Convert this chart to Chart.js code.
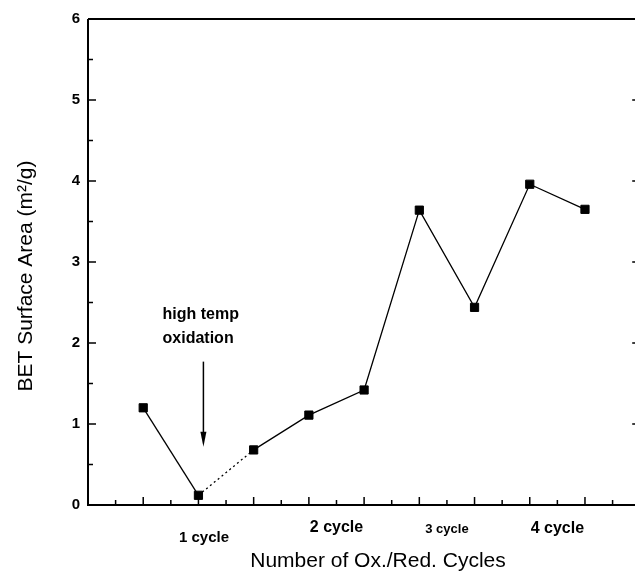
<!DOCTYPE html>
<html>
<head>
<meta charset="utf-8">
<script src="https://cdn.jsdelivr.net/npm/chart.js@4.4.1/dist/chart.umd.min.js"></script>
<style>
  html, body { margin: 0; padding: 0; overflow: hidden; background: #fff; }
  #wrap { width: 647px; height: 575px; position: relative; }
</style>
</head>
<body>
<div id="wrap"><canvas id="myChart"></canvas></div>
<script>
// sample positions along the x axis and measured BET areas
const sampleIndex = [1, 2, 3, 4, 5, 6, 7, 8, 9];
const betArea = [1.2, 0.12, 0.68, 1.11, 1.42, 3.64, 2.44, 3.96, 3.65];

// group labels under the axis (x in axis units)
const cycleLabels = ['1 cycle', '2 cycle', '3 cycle', '4 cycle'];
const cycleLabelX = [2.1, 4.5, 6.5, 8.5];

const annotationLines = ['high temp', 'oxidation'];
const xTitle = 'Number of Ox./Red. Cycles';
const yTitle = 'BET Surface Area (m²/g)';

const FONT = '"Liberation Sans", Arial, sans-serif';
const cycleFonts = ['bold 15px', 'bold 16px', 'bold 13px', 'bold 16px'];
const cycleBaselines = [542, 532, 533, 533];

const framePlugin = {
  id: 'frame',
  afterDraw(chart) {
    const { ctx, chartArea: a, scales } = chart;
    const xs = scales.x, ys = scales.y;
    ctx.save();
    ctx.strokeStyle = '#000';
    ctx.fillStyle = '#000';

    // axis box
    ctx.lineWidth = 2;
    ctx.beginPath();
    ctx.moveTo(a.left, a.top);
    ctx.lineTo(a.right, a.top);
    ctx.moveTo(a.left, a.top);
    ctx.lineTo(a.left, a.bottom);
    ctx.lineTo(a.right, a.bottom);
    ctx.moveTo(a.right, a.top);
    ctx.lineTo(a.right, a.bottom);
    ctx.stroke();

    // inward ticks
    ctx.lineWidth = 1.5;
    ctx.beginPath();
    xs.ticks.forEach(t => {
      if (t.value <= xs.min || t.value >= xs.max) return;
      const px = xs.getPixelForValue(t.value);
      const len = Number.isInteger(t.value) ? 8 : 5;
      ctx.moveTo(px, a.bottom);
      ctx.lineTo(px, a.bottom - len);
    });
    ys.ticks.forEach(t => {
      if (t.value <= ys.min || t.value >= ys.max) return;
      const py = ys.getPixelForValue(t.value);
      const len = Number.isInteger(t.value) ? 8 : 5;
      ctx.moveTo(a.left, py);
      ctx.lineTo(a.left + len, py);
      ctx.moveTo(a.right, py);
      ctx.lineTo(a.right - len, py);
    });
    ctx.stroke();

    // cycle group labels
    ctx.textAlign = 'center';
    ctx.textBaseline = 'alphabetic';
    cycleLabels.forEach((lbl, i) => {
      ctx.font = cycleFonts[i] + ' ' + FONT;
      ctx.fillText(lbl, xs.getPixelForValue(cycleLabelX[i]), cycleBaselines[i]);
    });

    // axis titles
    ctx.font = '21px ' + FONT;
    ctx.fillText(xTitle, 378, 567);
    ctx.save();
    ctx.translate(32, 276);
    ctx.rotate(-Math.PI / 2);
    ctx.fillText(yTitle, 0, 0);
    ctx.restore();

    // annotation text + arrow
    ctx.font = 'bold 16px ' + FONT;
    ctx.textAlign = 'left';
    const tx = xs.getPixelForValue(1.35);
    ctx.fillText(annotationLines[0], tx, ys.getPixelForValue(2.30));
    ctx.fillText(annotationLines[1], tx, ys.getPixelForValue(2.0));

    const ax = xs.getPixelForValue(2.09);
    const ay0 = ys.getPixelForValue(1.77);
    const ay1 = ys.getPixelForValue(0.72);
    ctx.lineWidth = 1.5;
    ctx.beginPath();
    ctx.moveTo(ax, ay0);
    ctx.lineTo(ax, ay1 - 10);
    ctx.stroke();
    ctx.beginPath();
    ctx.moveTo(ax - 3, ay1 - 15);
    ctx.lineTo(ax + 3, ay1 - 15);
    ctx.lineTo(ax, ay1);
    ctx.closePath();
    ctx.fill();

    ctx.restore();
  }
};

const canvas = document.getElementById('myChart');
new Chart(canvas, {
  type: 'line',
  data: {
    datasets: [{
      data: sampleIndex.map((x, i) => ({ x: x, y: betArea[i] })),
      borderColor: '#000',
      backgroundColor: '#000',
      borderWidth: 1.3,
      pointStyle: 'rect',
      pointRadius: 5.8,
      pointBorderWidth: 1,
      pointBorderColor: '#000',
      pointBackgroundColor: '#000',
      tension: 0,
      segment: {
        borderDash: ctx => ctx.p0DataIndex === 1 ? [2, 3] : undefined
      }
    }]
  },
  options: {
    responsive: true,
    maintainAspectRatio: false,
    animation: false,
    layout: { padding: { top: 19, right: 5, left: 0, bottom: 0 } },
    plugins: { legend: { display: false }, tooltip: { enabled: false } },
    scales: {
      x: {
        type: 'linear',
        min: 0,
        max: 10,
        ticks: { stepSize: 0.5, display: false },
        grid: { display: false },
        border: { display: false },
        afterFit: s => { s.height = 70; }
      },
      y: {
        min: 0,
        max: 6,
        ticks: {
          stepSize: 0.5,
          autoSkip: false,
          padding: 8,
          color: '#000',
          font: { family: FONT, size: 15, weight: 'bold' },
          callback: v => Number.isInteger(v) ? v : ''
        },
        grid: { display: false, drawTicks: false },
        border: { display: false },
        afterFit: s => { s.height = s.height; s.width = 88; }
      }
    }
  },
  plugins: [framePlugin]
});
</script>
</body>
</html>
